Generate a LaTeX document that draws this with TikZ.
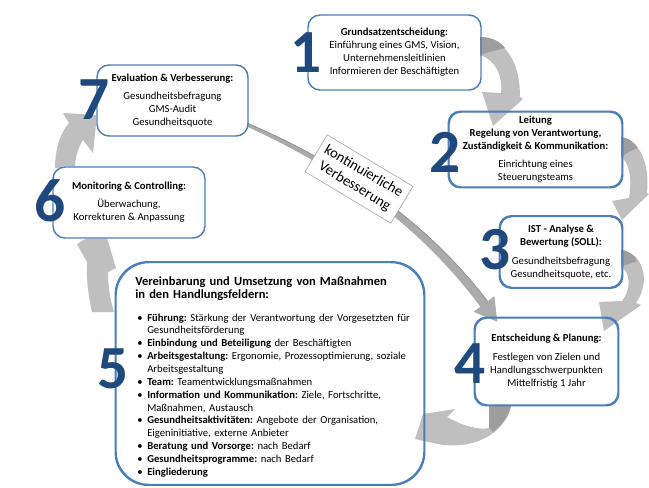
\documentclass[tikz,border=0pt]{standalone}
\usepackage{fontspec}
\setmainfont{Carlito}
\frenchspacing
\pgfdeclarelayer{back}
\pgfdeclarelayer{fills}
\pgfdeclarelayer{arrows}
\pgfsetlayers{back,fills,arrows,main}
\definecolor{boxblue}{HTML}{4A7EBB}
\definecolor{numblue}{HTML}{1F497D}
\definecolor{agray}{HTML}{BFBFBF}
\definecolor{adark}{HTML}{9E9E9E}
\definecolor{lgray}{HTML}{ABABAB}
\definecolor{ldark}{HTML}{8C8C8C}
\newcommand{\bitm}[1]{\par\noindent\hangindent=7.5pt\hangafter=1\makebox[7.5pt][l]{\textbullet}#1}
\begin{document}
\begin{tikzpicture}[x=0.75pt,y=-0.75pt,
  box/.style={draw=boxblue, line width=1.1pt, rounded corners=9pt, inner sep=0pt, align=center,
              font=\fontsize{8}{9.75}\selectfont\frenchspacing},
  num/.style={text=numblue, font=\fontsize{46}{46}\selectfont\bfseries, inner sep=0pt},
  blockarrow/.style={fill=agray},
  blockdark/.style={fill=adark},
  boxfill/.style={fill=white, rounded corners=9pt}]
\useasboundingbox (0,0) rectangle (649,487);

% boxes
\node[box, minimum width=129.75pt, minimum height=56.25pt] (b1) at (394.5,52.5)
  {\textbf{Grundsatzentscheidung:}\\Einführung eines GMS, Vision,\\Unternehmensleitlinien\\Informieren der Beschäftigten};
\node[box, minimum width=129.75pt, minimum height=56.25pt] (b2) at (535.5,149.5)
  {\textbf{Leitung}\\\textbf{Regelung von Verantwortung,}\\\textbf{Zuständigkeit \& Kommunikation:}\\[3.75pt]Einrichtung eines\\Steuerungsteams};
\node[box, minimum width=91.5pt, minimum height=53.25pt] (b3) at (561,252)
  {\textbf{IST - Analyse \&}\\\textbf{Bewertung (SOLL):}\\[4.5pt]Gesundheitsbefragung\\Gesundheitsquote, etc.};
\node[box, minimum width=107.25pt, minimum height=65.25pt] (b4) at (546.5,361.5)
  {\textbf{Entscheidung \& Planung:}\\[4.5pt]Festlegen von Zielen und\\Handlungsschwerpunkten\\Mittelfristig 1 Jahr};
\node[box, rounded corners=24.75pt, minimum width=231pt, minimum height=166.5pt] (b5) at (270,373.5) {};
\node[box, minimum width=114pt, minimum height=53.25pt] (b6) at (129,202.5)
  {\textbf{Monitoring \& Controlling:}\\[3.75pt]Überwachung,\\Korrekturen \& Anpassung};
\node[box, minimum width=113.25pt, minimum height=53.25pt] (b7) at (172.5,100.5)
  {\textbf{Evaluation \& Verbesserung:}\\[3.75pt]Gesundheitsbefragung\\GMS-Audit\\Gesundheitsquote};

% box 5 text
\node[anchor=base west, inner sep=0pt, text width=240pt, align=left,
      font=\fontsize{9.4}{9.75}\selectfont\bfseries\frenchspacing] (t5a) at (135,285)
  {Vereinbarung und Umsetzung von Maßnahmen\\in den Handlungsfeldern:};
\node[anchor=north west, inner sep=0pt, text width=230pt, align=left,
      font=\fontsize{8}{9.64}\selectfont\frenchspacing] (t5b) at (137,308)
  {\bitm{\textbf{Führung:} Stärkung der Verantwortung der Vorgesetzten für\newline Gesundheitsförderung}
   \bitm{\textbf{Einbindung und Beteiligung} der Beschäftigten}
   \bitm{\textbf{Arbeitsgestaltung:} Ergonomie, Prozessoptimierung, soziale\newline Arbeitsgestaltung}
   \bitm{\textbf{Team:} Teamentwicklungsmaßnahmen}
   \bitm{\textbf{Information und Kommunikation:} Ziele, Fortschritte,\newline Maßnahmen, Austausch}
   \bitm{\textbf{Gesundheitsaktivitäten:} Angebote der Organisation,\newline Eigeninitiative, externe Anbieter}
   \bitm{\textbf{Beratung und Vorsorge:} nach Bedarf}
   \bitm{\textbf{Gesundheitsprogramme:} nach Bedarf}
   \bitm{\textbf{Eingliederung}}};

% white fills under the boxes
\begin{pgfonlayer}{fills}
  \foreach \b in {b1,b2,b3,b4,b6,b7}
    \fill[boxfill] (\b.south west) rectangle (\b.north east);
  \fill[boxfill, rounded corners=24.75pt] (b5.south west) rectangle (b5.north east);
\end{pgfonlayer}

% arrows hidden partly behind boxes
\begin{pgfonlayer}{back}
  % 5 -> 6
  \fill[blockarrow] (92,312) .. controls (88,295) and (86,275) .. (87,262) -- (77,244) -- (104,228)
     -- (116,268) -- (108,272) .. controls (108,285) and (110,300) .. (114,312) -- cycle;
  % 6 -> 7
  \fill[blockarrow] (55,168) .. controls (55,150) and (60,133) .. (69,123) -- (63,113) -- (97,115)
     -- (93,153) -- (83,140) .. controls (78,148) and (75,158) .. (75,168) -- cycle;
\end{pgfonlayer}

\begin{pgfonlayer}{arrows}
  % 1 -> 2
  \fill[blockarrow] (480,37) .. controls (500,38) and (520,55) .. (520,97) -- (523,99) -- (493,126)
     -- (482,92) -- (501,93) .. controls (503,75) and (495,60) .. (480,55) -- cycle;
  \fill[blockdark] (480,37) .. controls (491,37) and (500,41) .. (505,48)
     .. controls (497,50) and (488,52) .. (480,55) -- cycle;
  % 2 -> 3
  \fill[blockarrow] (621,137) .. controls (638,140) and (650,160) .. (647,193) -- (649,194) -- (622,220)
     -- (612,201) -- (629,198) .. controls (632,180) and (630,163) .. (621,157) -- cycle;
  \fill[blockdark] (621,137) .. controls (629,138) and (634,142) .. (638,148)
     .. controls (632,150) and (626,153) .. (621,157) -- cycle;
  % 3 -> 4
  \fill[blockarrow] (621,250) .. controls (642,252) and (652,280) .. (636,303) -- (641,305) -- (604,331)
     -- (599,302) -- (622,301) .. controls (632,288) and (630,272) .. (621,267) -- cycle;
  \fill[blockdark] (621,250) .. controls (629,251) and (634,255) .. (637,261)
     .. controls (631,263) and (626,265) .. (621,267) -- cycle;
  % 4 -> 5
  \fill[blockarrow] (511,406) .. controls (505,435) and (470,452) .. (433,443) -- (415,439) -- (423,414)
     -- (455,409) -- (447,417) .. controls (465,427) and (480,430) .. (489,428) -- (489,406) -- cycle;
  \fill[blockdark] (489,406) -- (511,406) .. controls (509,415) and (502,425) .. (493,432)
     -- (489,428) -- cycle;
  % continuous improvement arrow 7 -> 4
  \fill[lgray] (247.5,123.2) .. controls (349.7,167.1) and (430,225.7) .. (487.6,301.3) -- (494.4,296.2)
     -- (497.2,321.6) -- (473.6,311.8) -- (480.4,306.7) .. controls (423.6,230.5) and (347.3,172.5)
     .. (247.5,126.8) -- cycle;
  \draw[ldark, line width=0.5pt] (247.5,123.2) .. controls (349.7,167.1) and (430,225.7) .. (487.6,301.3);
\end{pgfonlayer}

% redraw borders of boxes that arrows overlap
\foreach \b in {b2,b3,b4}
  \draw[draw=boxblue, line width=1.1pt, rounded corners=9pt] (\b.south west) rectangle (\b.north east);
\draw[draw=boxblue, line width=1.1pt, rounded corners=24.75pt] (b5.south west) rectangle (b5.north east);

% label
\node[rotate=-31, draw=lgray, line width=0.5pt, fill=white, minimum width=75pt, minimum height=32.25pt,
      inner sep=0pt, align=center, font=\fontsize{11}{13}\selectfont] (lab) at (359,179)
  {kontinuierliche\\Verbesserung};

% numbers
\node[num] (n1) at (306.5,52.5) {1};
\node[num] (n2) at (445.5,152.5) {2};
\node[num] (n3) at (495.5,250) {3};
\node[num] (n4) at (470,363.5) {4};
\node[num] (n5) at (113.5,368.5) {5};
\node[num] (n6) at (50,201) {6};
\node[num] (n7) at (94.5,100) {7};
\end{tikzpicture}
\end{document}
